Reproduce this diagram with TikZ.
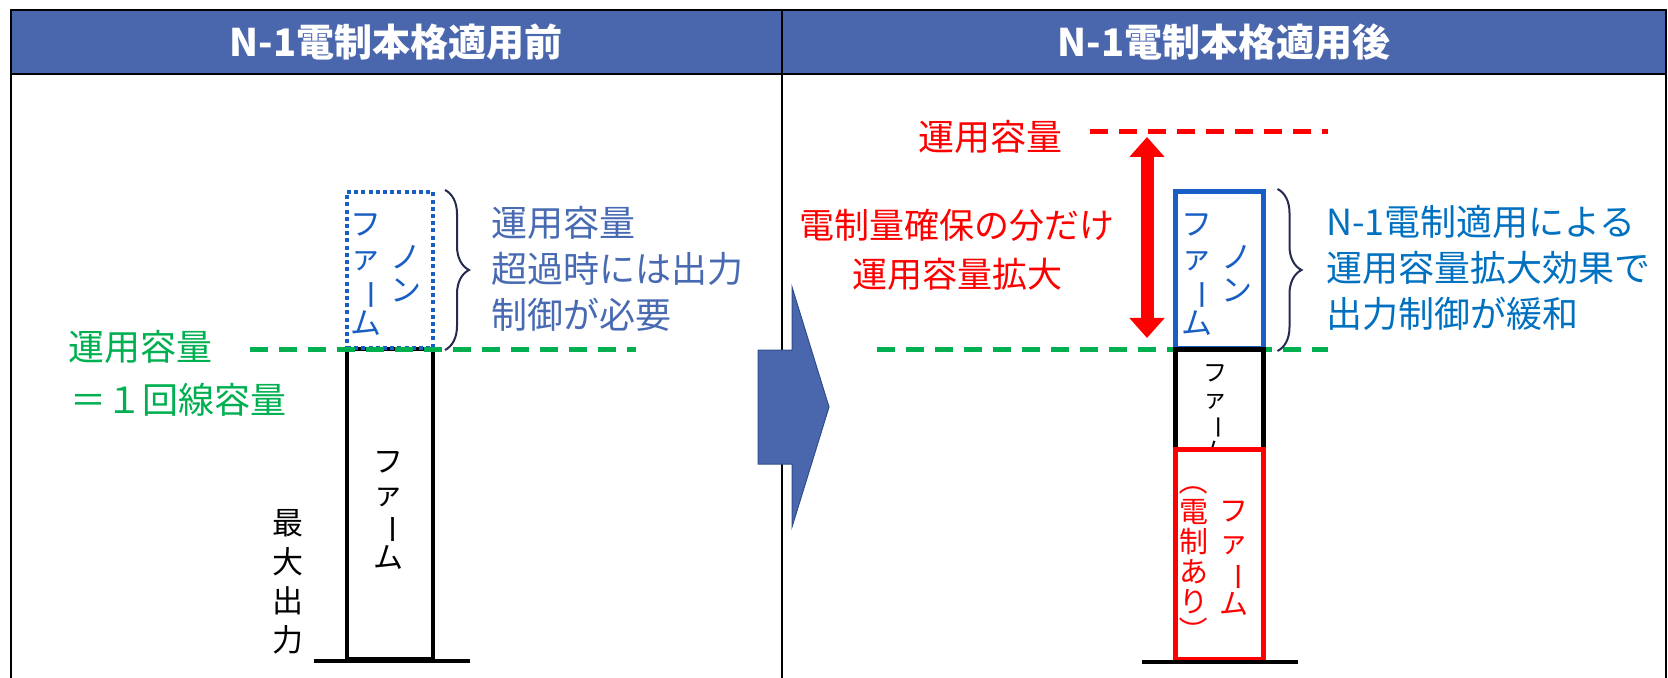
\documentclass[tikz,border=0pt]{standalone}
\usepackage{fontspec}
\setmainfont{Noto Sans CJK JP}
\usetikzlibrary{arrows.meta,decorations.pathreplacing}

\definecolor{hdrblue}{RGB}{74,102,172}
\definecolor{hdredge}{RGB}{47,78,140}
\definecolor{nfblue}{RGB}{24,94,196}
\definecolor{navy}{RGB}{38,42,78}
\definecolor{slate}{RGB}{72,106,178}
\definecolor{capgreen}{RGB}{0,176,80}
\definecolor{effblue}{RGB}{0,112,192}

\newcommand\tbar{\rotatebox[origin=c]{-90}{ー}}
\newcommand\tlp{\rotatebox[origin=c]{-90}{（}}
\newcommand\trp{\rotatebox[origin=c]{-90}{）}}

\begin{document}
\begin{tikzpicture}[x=0.5pt,y=-0.5pt]
\tikzset{frame/.style = {draw=black,line width=1pt}}
\tikzset{hdr/.style = {text=white,font=\bfseries\fontsize{19}{22}\selectfont}}
\tikzset{bar/.style = {draw,inner sep=0pt,line width=2pt}}
\tikzset{ground/.style = {line width=2pt}}
\tikzset{capline/.style = {line width=2.5pt,dash pattern=on 9pt off 5.5pt}}
\tikzset{brc/.style = {decorate,decoration={brace,amplitude=12pt},draw=navy,line width=1pt}}
\tikzset{note/.style = {align=left,inner sep=0pt,font=\fontsize{18}{23}\selectfont}}
\tikzset{tate/.style = {align=center,inner sep=0pt}}

\useasboundingbox (0,0) rectangle (1668,678);

\fill[hdrblue] (11,10) rectangle (1666,74);
\draw[frame] (11,678) -- (11,10) -- (1666,10) -- (1666,678);
\draw[frame] (11,74) -- (1666,74);
\draw[frame] (782,10) -- (782,678);

\node[hdr] (hdrL) at (396,42) {N-1電制本格適用前};
\node[hdr] (hdrR) at (1224,42) {N-1電制本格適用後};

\node[bar,minimum width=43pt,minimum height=155pt] (firmL) at (390,504) {};
\node[bar,draw=nfblue,dash pattern=on 2pt off 1.6pt,minimum width=43pt,minimum height=78pt] (nonfirmL) at (390,270) {};
\draw[ground] ([xshift=-15.5pt]firmL.south west) -- ([xshift=17.5pt]firmL.south east);

\node[tate,font=\fontsize{15}{16}\selectfont] (firmLtxt) at (388,510) {フ\\ァ\\\tbar\\ム};
\node[tate,text=nfblue,font=\fontsize{15.5}{16.5}\selectfont] (nonL1) at (406,274) {ノ\\ン};
\node[tate,text=nfblue,font=\fontsize{15.5}{16.5}\selectfont] (nonL2) at (366,275) {フ\\ァ\\\tbar\\ム};
\node[tate,font=\fontsize{15.5}{19.5}\selectfont] (maxout) at (288,582) {最\\大\\出\\力};

\coordinate (capL1) at (250,349);
\coordinate (capL2) at (636,349);
\draw[capline,capgreen] (capL1) -- (capL2);
\node[note,text=capgreen,anchor=west] (capLtxt) at (68,347) {運用容量};
\node[note,text=capgreen,anchor=west] (capLtxt2) at (70,400) {＝１回線容量};

\draw[brc] ([xshift=5pt]nonfirmL.north east) -- ([xshift=5pt]nonfirmL.south east);
\node[note,text=slate,anchor=west] (overL) at (491,269) {運用容量\\超過時には出力\\制御が必要};

\fill[hdrblue,draw=hdredge,line width=0.5pt] (758,350) -- (792,350) -- (792,287) -- (829,407) -- (792,527) -- (792,464) -- (758,464) -- cycle;

\coordinate (capR1) at (877,349);
\coordinate (capR2) at (1328,349);
\draw[capline,capgreen] (capR1) -- (capR2);
\coordinate (newcap1) at (1090,132);
\coordinate (newcap2) at (1328,132);
\draw[capline,red] (newcap1) -- (newcap2);
\node[note,text=red] (newcapTxt) at (990,137) {運用容量};

\coordinate (arrTop) at (1147,137);
\coordinate (arrBot) at (1147,338);
\draw[red,line width=6.5pt,{Triangle[width=17pt,length=10pt]}-{Triangle[width=17pt,length=10pt]}] (arrTop) -- (arrBot);
\node[note,align=center,text=red,font=\fontsize{17.5}{24.5}\selectfont] (gainTxt) at (957,250) {電制量確保の分だけ\\運用容量拡大};

\node[bar,draw=nfblue,line width=2.5pt,minimum width=44pt,minimum height=78.5pt] (nonfirmR) at (1219,270) {};
\node[bar,line width=2.5pt,minimum width=44pt,minimum height=50pt] (firmR) at (1219,399.5) {};
\node[tate,font=\fontsize{12}{13}\selectfont] (firmRtxt) at (1215,412) {フ\\ァ\\\tbar\\ム};
\node[bar,draw=red,fill=white,line width=2.5pt,minimum width=44pt,minimum height=105pt] (tripR) at (1219,554.5) {};
\draw[ground] ([xshift=-15.5pt]tripR.south west) -- ([xshift=16pt]tripR.south east);

\node[tate,text=nfblue,font=\fontsize{15.5}{16.5}\selectfont] (nonR1) at (1237,274) {ノ\\ン};
\node[tate,text=nfblue,font=\fontsize{15.5}{16.5}\selectfont] (nonR2) at (1197,275) {フ\\ァ\\\tbar\\ム};
\node[tate,text=red,font=\fontsize{14.5}{15.5}\selectfont] (tripR1) at (1234,558) {フ\\ァ\\\tbar\\ム};
\node[tate,text=red,font=\fontsize{14.5}{15}\selectfont] (tripR2) at (1194,556) {\tlp\\電\\制\\あ\\り\\\trp};

\draw[brc] ([xshift=6pt]nonfirmR.north east) -- ([xshift=6pt]nonfirmR.south east);
\node[note,text=effblue,anchor=west] (effR) at (1326,268) {N-1電制適用による\\運用容量拡大効果で\\出力制御が緩和};
\end{tikzpicture}
\end{document}
